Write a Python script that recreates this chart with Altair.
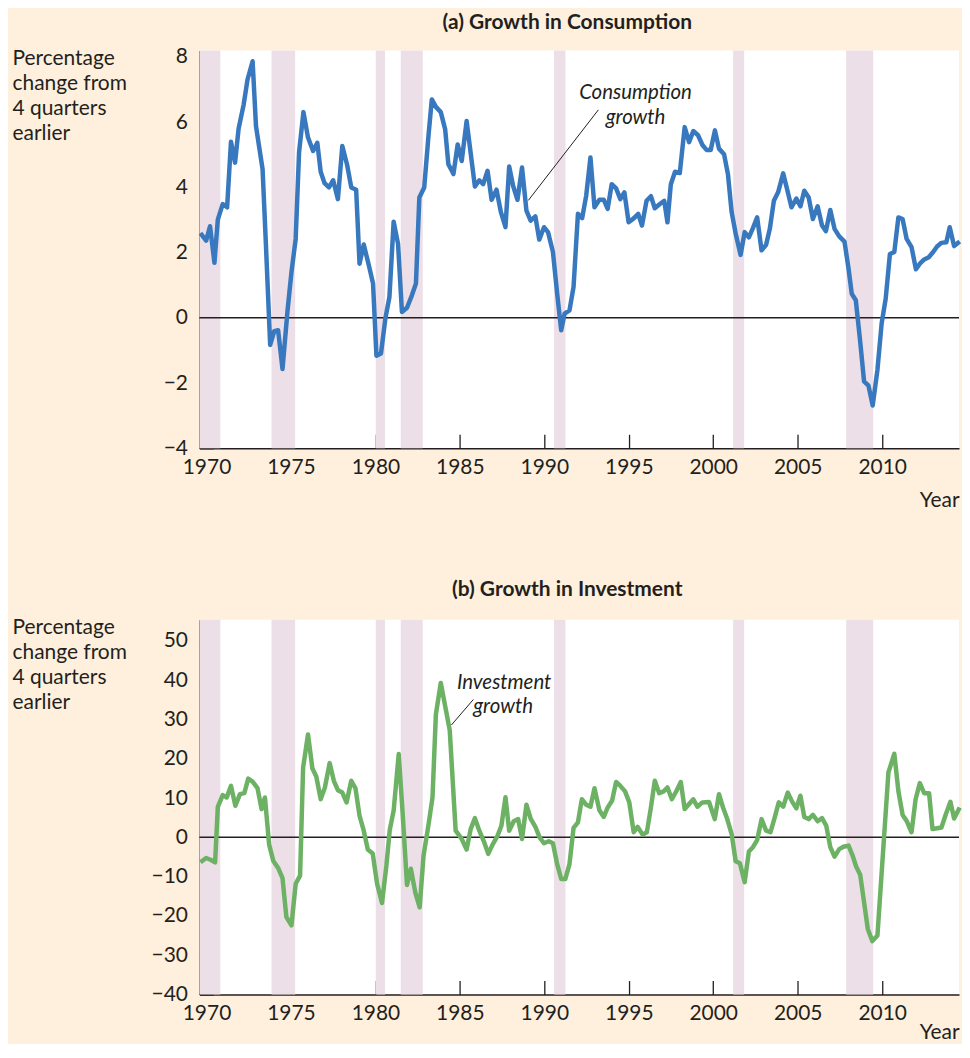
import altair as alt
import pandas as pd

# ---------------- data ----------------
cons_year = [1969.64, 1969.98, 1970.21, 1970.47, 1970.67, 1970.96, 1971.22, 1971.45, 1971.69, 1971.90,
             1972.20, 1972.43, 1972.73, 1972.93, 1973.32, 1973.52, 1973.77, 1974.01, 1974.24, 1974.50,
             1974.79, 1975.03, 1975.28, 1975.48, 1975.74, 1976.01, 1976.31, 1976.56, 1976.76, 1976.99,
             1977.25, 1977.50, 1977.78, 1978.04, 1978.33, 1978.57, 1978.86, 1979.06, 1979.31, 1979.61,
             1979.86, 1980.06, 1980.33, 1980.59, 1980.83, 1981.08, 1981.34, 1981.57, 1981.87, 1982.16,
             1982.40, 1982.60, 1982.89, 1983.15, 1983.34, 1983.58, 1983.87, 1984.13, 1984.32, 1984.62,
             1984.87, 1985.11, 1985.40, 1985.89, 1986.15, 1986.38, 1986.64, 1986.88, 1987.17, 1987.43,
             1987.70, 1987.92, 1988.15, 1988.41, 1988.68, 1988.94, 1989.19, 1989.47, 1989.70, 1989.98,
             1990.22, 1990.51, 1990.77, 1991.00, 1991.20, 1991.49, 1991.73, 1991.99, 1992.24, 1992.48,
             1992.73, 1992.97, 1993.26, 1993.52, 1993.75, 1993.99, 1994.25, 1994.50, 1994.74, 1994.99,
             1995.29, 1995.56, 1995.78, 1996.05, 1996.31, 1996.54, 1996.84, 1997.10, 1997.29, 1997.49,
             1997.74, 1998.02, 1998.31, 1998.57, 1998.82, 1999.10, 1999.36, 1999.60, 1999.85, 2000.10,
             2000.34, 2000.64, 2000.87, 2001.09, 2001.33, 2001.62, 2001.86, 2002.11, 2002.35, 2002.60,
             2002.86, 2003.13, 2003.35, 2003.59, 2003.84, 2004.14, 2004.37, 2004.63, 2004.92, 2005.16,
             2005.39, 2005.65, 2005.90, 2006.18, 2006.44, 2006.67, 2006.93, 2007.18, 2007.46, 2007.77,
             2008.01, 2008.20, 2008.44, 2008.70, 2008.93, 2009.19, 2009.44, 2009.72, 2009.97, 2010.21,
             2010.46, 2010.72, 2010.96, 2011.21, 2011.45, 2011.74, 2012.00, 2012.23, 2012.49, 2012.76,
             2013.02, 2013.25, 2013.51, 2013.80, 2014.00, 2014.26, 2014.59]
cons_value = [2.60, 2.37, 2.81, 1.69, 3.01, 3.49, 3.39, 5.40, 4.76, 5.80,
              6.54, 7.31, 7.87, 5.88, 4.56, 2.22, -0.83, -0.41, -0.38, -1.57,
              0.18, 1.40, 2.42, 5.07, 6.31, 5.53, 5.12, 5.37, 4.48, 4.13,
              4.00, 4.22, 3.64, 5.27, 4.68, 4.00, 3.93, 1.66, 2.25, 1.61,
              1.05, -1.16, -1.09, -0.02, 0.64, 2.95, 2.27, 0.18, 0.31, 0.69,
              1.05, 3.69, 4.00, 5.63, 6.70, 6.47, 6.31, 5.78, 4.71, 4.41,
              5.32, 4.81, 6.04, 4.03, 4.22, 4.10, 4.51, 3.62, 3.93, 3.24,
              2.78, 4.64, 4.05, 3.62, 4.61, 3.29, 2.98, 3.11, 2.40, 2.78,
              2.63, 2.02, 0.69, -0.38, 0.13, 0.23, 0.95, 3.19, 3.06, 3.75,
              4.92, 3.39, 3.62, 3.62, 3.34, 4.10, 3.97, 3.64, 3.85, 2.93,
              3.05, 3.19, 2.83, 3.59, 3.73, 3.36, 3.49, 3.59, 2.93, 4.10,
              4.48, 4.44, 5.85, 5.39, 5.73, 5.60, 5.30, 5.15, 5.15, 5.75,
              5.19, 5.02, 4.41, 3.24, 2.58, 1.93, 2.63, 2.47, 2.75, 3.08,
              2.07, 2.24, 2.73, 3.59, 3.85, 4.43, 3.95, 3.39, 3.66, 3.42,
              3.90, 3.69, 3.03, 3.42, 2.83, 2.66, 3.31, 2.73, 2.50, 2.34,
              1.51, 0.74, 0.54, -0.73, -1.95, -2.08, -2.69, -1.60, -0.17, 0.59,
              1.96, 2.02, 3.08, 3.03, 2.42, 2.17, 1.49, 1.66, 1.79, 1.86,
              2.02, 2.19, 2.30, 2.32, 2.78, 2.20, 2.34]

inv_year = [1969.64, 1969.98, 1970.27, 1970.51, 1970.67, 1970.96, 1971.20, 1971.45, 1971.71, 1971.98,
            1972.24, 1972.47, 1972.73, 1973.02, 1973.26, 1973.46, 1973.71, 1973.95, 1974.24, 1974.50,
            1974.73, 1975.03, 1975.28, 1975.54, 1975.72, 1976.01, 1976.27, 1976.50, 1976.76, 1977.01,
            1977.29, 1977.54, 1977.78, 1978.04, 1978.29, 1978.57, 1978.82, 1979.06, 1979.31, 1979.55,
            1979.84, 1980.10, 1980.39, 1980.65, 1980.85, 1981.08, 1981.38, 1981.61, 1981.87, 1982.10,
            1982.36, 1982.62, 1982.85, 1983.15, 1983.38, 1983.58, 1983.87, 1984.13, 1984.40, 1984.75,
            1985.11, 1985.40, 1985.64, 1985.89, 1986.15, 1986.42, 1986.68, 1986.93, 1987.23, 1987.46,
            1987.70, 1987.92, 1988.19, 1988.45, 1988.68, 1988.94, 1989.19, 1989.47, 1989.72, 1989.98,
            1990.26, 1990.51, 1990.75, 1991.00, 1991.24, 1991.49, 1991.73, 1991.99, 1992.22, 1992.48,
            1992.73, 1992.97, 1993.26, 1993.52, 1993.75, 1994.01, 1994.25, 1994.50, 1994.78, 1995.03,
            1995.29, 1995.52, 1995.82, 1996.07, 1996.31, 1996.54, 1996.80, 1997.06, 1997.29, 1997.55,
            1997.82, 1998.08, 1998.31, 1998.57, 1998.82, 1999.06, 1999.36, 1999.75, 2000.09, 2000.34,
            2000.58, 2000.83, 2001.09, 2001.33, 2001.58, 2001.86, 2002.11, 2002.35, 2002.60, 2002.86,
            2003.13, 2003.39, 2003.64, 2003.88, 2004.14, 2004.41, 2004.67, 2004.92, 2005.16, 2005.39,
            2005.65, 2005.90, 2006.18, 2006.44, 2006.69, 2006.93, 2007.18, 2007.46, 2007.71, 2008.01,
            2008.24, 2008.46, 2008.70, 2008.93, 2009.15, 2009.42, 2009.72, 2010.37, 2010.72, 2010.96,
            2011.21, 2011.45, 2011.74, 2011.98, 2012.23, 2012.49, 2012.78, 2012.98, 2013.25, 2013.51,
            2013.77, 2014.04, 2014.26, 2014.59]
inv_value = [-6.35, -5.25, -5.75, -6.35, 7.78, 10.74, 10.15, 13.11, 8.04, 11.0,
             11.25, 14.97, 14.2, 12.52, 7.19, 10.15, -1.86, -5.92, -7.78, -10.4,
             -20.3, -22.4, -11.8, -9.73, 17.77, 26.2, 17.5, 15.5, 9.73, 12.7,
             18.9, 14.4, 12.0, 11.4, 8.9, 14.4, 12.5, 5.5, 1.7, -3.1,
             -4.1, -11.8, -16.7, -7.2, 1.9, 6.8, 21.2, 6.3, -12.1, -8.0,
             -14.0, -17.8, -4.65, 3.4, 10.15, 31.3, 39.3, 33.4, 27.3, 1.7,
             -0.4, -3.1, 2.1, 4.9, 1.7, -1.0, -4.2, -1.9, 0.4, 3.0,
             10.2, 1.7, 4.1, 4.65, -0.4, 8.3, 4.8, 2.7, 0.0, -1.5,
             -1.0, -1.5, -6.6, -10.6, -10.6, -6.8, 2.4, 3.8, 9.7, 8.3,
             7.8, 12.5, 6.9, 5.2, 7.6, 9.3, 14.1, 13.1, 11.7, 8.9,
             1.3, 2.7, 0.7, 1.3, 7.6, 14.4, 11.25, 11.7, 12.7, 9.7,
             11.8, 14.1, 7.2, 8.5, 9.7, 7.8, 8.9, 9.0, 4.65, 11.0,
             7.6, 4.65, 0.85, -6.1, -6.6, -11.4, -3.6, -2.5, -0.7, 4.65,
             1.7, 1.3, 5.1, 8.9, 7.8, 11.4, 9.1, 7.4, 10.6, 5.2,
             4.65, 5.75, 4.1, 4.9, 3.0, -2.5, -4.9, -3.0, -2.4, -2.1,
             -4.5, -7.4, -9.5, -16.5, -23.3, -26.4, -25.0, 16.5, 21.3, 11.8,
             5.7, 4.2, 1.3, 9.7, 13.8, 11.25, 11.25, 2.1, 2.3, 2.5,
             5.9, 9.05, 4.8, 7.6]

rec_start = [1969.58, 1973.85, 1980.02, 1981.50, 1990.57, 2001.18, 2007.87]
rec_end = [1970.82, 1975.25, 1980.57, 1982.80, 1991.25, 2001.83, 2009.47]

x_ticks = [1970, 1975, 1980, 1985, 1990, 1995, 2000, 2005, 2010]
cons_ticks = [-4, -2, 0, 2, 4, 6, 8]
inv_ticks = [-40, -30, -20, -10, 0, 10, 20, 30, 40, 50]

y_title = ["Percentage", "change from", "4 quarters", "earlier"]

cons_label = ["Consumption", "growth"]
cons_label_x = [1995.4, 1995.4]
cons_label_y = [6.89, 6.13]
cons_leader = {"x": [1989.05], "y": [3.6], "x2": [1993.2], "y2": [6.38]}

inv_label = ["Investment", "growth"]
inv_label_x = [1987.62, 1987.56]
inv_label_y = [39.3, 33.2]
inv_leader = {"x": [1984.5], "y": [28.6], "x2": [1985.8], "y2": [35.1]}

# ---------------- style ----------------
BG = "#FEF0DC"
BAND = "#ECDFE7"
BLUE = "#3878BE"
GREEN = "#6CB164"
INK = "#231F20"
FONT = "Lato"
W = 762

x_scale = alt.Scale(domain=[1969.58, 2014.55], nice=False, zero=False)
rec_df = pd.DataFrame({"start": rec_start, "end": rec_end})


def panel(years, values, color, title, ydom, yticks, H, lab, lab_x, lab_y, leader, toff, year_y):
    df = pd.DataFrame({"year": years, "value": values})
    ys = alt.Scale(domain=ydom, nice=False, zero=False)

    bands = alt.Chart(rec_df).mark_rect(color=BAND).encode(
        x=alt.X("start:Q", scale=x_scale,
                axis=alt.Axis(labels=False, ticks=False, domain=True, domainColor=INK,
                              domainWidth=1.5, grid=False, title=None, orient="bottom")),
        x2="end:Q",
        y=alt.value(0),
        y2=alt.value(H),
    )
    zero = alt.Chart(pd.DataFrame({"v": [0]})).mark_rule(color=INK, strokeWidth=1.5).encode(
        y=alt.Y("v:Q", scale=ys,
                axis=alt.Axis(labels=False, ticks=False, domain=True, domainColor=INK,
                              domainWidth=1.5, grid=False, title=None, orient="left")),
    )
    line = alt.Chart(df).mark_line(color=color, strokeWidth=4.5, strokeJoin="round").encode(
        x=alt.X("year:Q", scale=x_scale,
                axis=alt.Axis(values=x_ticks, format="d", offset=-14, tickSize=14, tickColor=INK,
                              tickWidth=1.3,
                              tickOpacity=alt.condition("datum.value == 1970", alt.value(0), alt.value(1)),
                              domain=False, grid=False, orient="bottom",
                              labelFont=FONT, labelFontSize=21, labelColor=INK, labelPadding=8,
                              labelFlush=False,
                              title="Year", titleFont=FONT, titleFontSize=21, titleFontWeight="normal",
                              titleColor=INK, titleAnchor="end", titleBaseline="middle",
                              titleY=year_y)),
        y=alt.Y("value:Q", scale=ys,
                axis=alt.Axis(values=yticks, offset=-14, tickSize=14, tickColor=INK, tickWidth=1.3,
                              domain=False, grid=False, orient="left",
                              labelFont=FONT, labelFontSize=21, labelColor=INK, labelPadding=12,
                              title=y_title, titleFont=FONT, titleFontSize=21,
                              titleFontWeight="normal", titleColor=INK, titleAngle=0,
                              titleAlign="left", titleBaseline="top", titleLineHeight=25,
                              titleX=-202, titleY=-3)),
    )
    txt = alt.Chart(pd.DataFrame({"t": lab, "x": lab_x, "y": lab_y})).mark_text(
        font=FONT, fontSize=20.5, fontStyle="italic", color=INK, align="center", baseline="middle"
    ).encode(
        x=alt.X("x:Q", scale=x_scale, axis=None),
        y=alt.Y("y:Q", scale=ys, axis=None),
        text="t:N",
    )
    lead = alt.Chart(pd.DataFrame(leader)).mark_rule(color=INK, strokeWidth=1).encode(
        x=alt.X("x:Q", scale=x_scale, axis=None),
        x2="x2:Q",
        y=alt.Y("y:Q", scale=ys, axis=None),
        y2="y2:Q",
    )
    return alt.layer(bands, zero, line, lead, txt).resolve_axis(
        x="independent", y="independent"
    ).properties(
        width=W, height=H,
        title=alt.TitleParams(title, font=FONT, fontSize=21, fontWeight="bold", color=INK,
                              anchor="middle", frame="group", offset=toff, dx=-12),
    )


top = panel(cons_year, cons_value, BLUE, "(a) Growth in Consumption", [-4, 8.2], cons_ticks, 399,
            cons_label, cons_label_x, cons_label_y, cons_leader, 13, 66)
bottom = panel(inv_year, inv_value, GREEN, "(b) Growth in Investment", [-40, 55.4], inv_ticks, 376,
               inv_label, inv_label_x, inv_label_y, inv_leader, 17, 52)

chart = alt.vconcat(top, bottom, spacing=69).properties(
    background=BG,
    padding={"left": 4, "top": 2, "right": 0, "bottom": 0},
).configure_view(fill="white", stroke=None)

chart.save("out.html", embed_options={"renderer": "svg", "actions": False})
